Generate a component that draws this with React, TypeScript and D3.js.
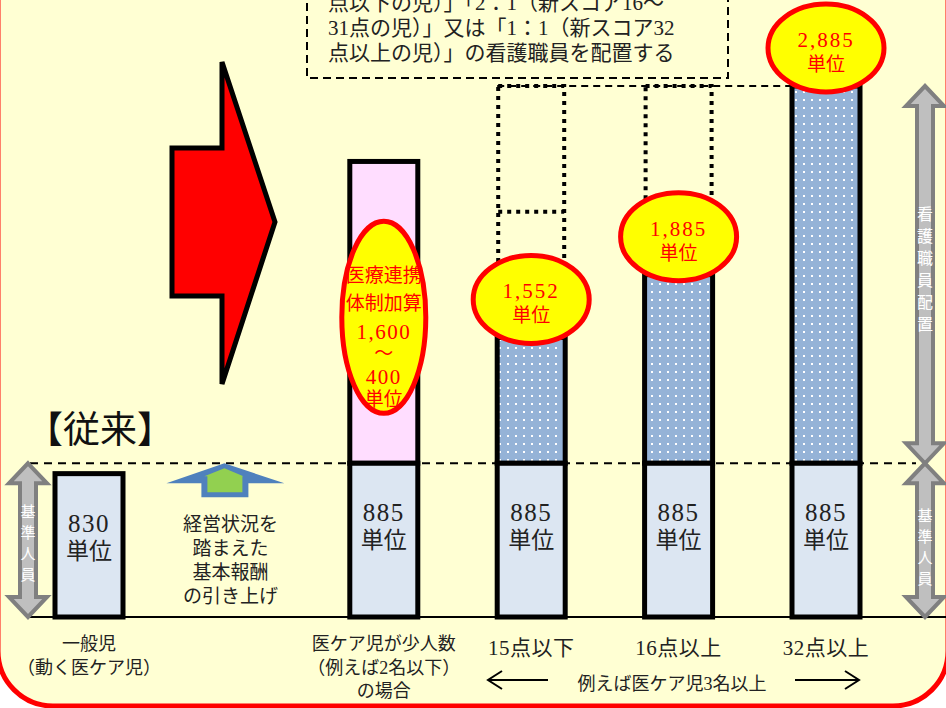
import React from "react";
import * as d3 from "d3";

const categories = ["一般児", "経営", "少人数", "15点以下", "16点以上", "32点以上"];
const barCategories = ["一般児", "少人数", "15点以下", "16点以上", "32点以上"];
const baseValues = [830, 885, 885, 885, 885];
const addValues = [0, 1600, 667, 1000, 2000];
const addKinds = ["none", "pink", "dots", "dots", "dots"];
const bubbleLabels = ["", "", "1,552", "1,885", "2,885"];
const ghostLevels: number[][] = [[], [], [2218, 2885], [2885], []];
const catLabels: string[][] = [
  ["一般児", "（動く医ケア児）"],
  ["医ケア児が少人数", "（例えば2名以下）", "の場合"],
  ["15点以下"],
  ["16点以上"],
  ["32点以上"],
];
const supplementLines = ["医療連携", "体制加算", "1,600", "～", "400", "単位"];
const raiseLines = ["経営状況を", "踏まえた", "基本報酬", "の引き上げ"];
const noteLines = [
  "点以下の児）」「2：1（新スコア16～",
  "31点の児）」又は「1：1（新スコア32",
  "点以上の児）」の看護職員を配置する",
];
const AXIS_MIN = 70;
const AXIS_MAX = 2885;

const FONT = "'Liberation Serif','Noto Sans CJK JP',serif";
const BG = "#FFFFD3";

function dblArrow(cx: number, y0: number, y1: number, hw = 19, sw = 8, hh = 20) {
  const p = [
    [cx, y0], [cx + hw, y0 + hh], [cx + sw, y0 + hh], [cx + sw, y1 - hh], [cx + hw, y1 - hh],
    [cx, y1], [cx - hw, y1 - hh], [cx - sw, y1 - hh], [cx - sw, y0 + hh], [cx - hw, y0 + hh],
  ];
  return p.map((d) => d.join(",")).join(" ");
}

export default function App() {
  const W = 946, H = 708;
  const x = d3.scalePoint<string>().domain(categories).range([89, 826]);
  const y = d3.scaleLinear().domain([AXIS_MIN, AXIS_MAX]).range([617, 86]);
  const baseY = y(AXIS_MIN);
  const barW = 68;
  const y885 = y(885);
  const yTop = y(AXIS_MAX);

  const verticalText = (chars: string, cx: number, yStart: number, step: number, size: number) =>
    chars.split("").map((c, i) => (
      <text key={i} x={cx} y={yStart + i * step} fontSize={size} fill="#fff" textAnchor="middle"
        fontFamily={FONT} dominantBaseline="central">{c}</text>
    ));

  const gx = x("経営")! - 12;

  return (
    <svg width={W} height={H} style={{ position: "absolute", left: 0, top: 0, background: "#fff" }}>
      <defs>
        <pattern id="dots" width="8" height="8" patternUnits="userSpaceOnUse">
          <rect width="8" height="8" fill="#95B3D7" />
          <rect x="3" y="3" width="2" height="2" fill="#fff" />
        </pattern>
      </defs>
      <rect x={-2} y={-100} width={950} height={806} rx={55} fill={BG} stroke="#FF0000" strokeWidth={5} />

      {/* note box */}
      <rect x={307} y={-40} width={421} height={118} fill="none" stroke="#000" strokeWidth={2} strokeDasharray="8 5" />
      {noteLines.map((t, i) => (
        <text key={i} x={328} y={10 + i * 25} fontSize={21} fontFamily={FONT} fill="#222">{t}</text>
      ))}

      {/* reference lines */}
      <line x1={28} x2={W} y1={baseY} y2={baseY} stroke="#000" strokeWidth={2} />
      <line x1={30} x2={916} y1={y885} y2={y885} stroke="#000" strokeWidth={2} strokeDasharray="8 6" />
      <line x1={x("15点以下")! - barW / 2} x2={x("32点以上")! - barW / 2} y1={yTop} y2={yTop} stroke="#000" strokeWidth={2} strokeDasharray="7 5" />

      {/* ghost dotted boxes */}
      {barCategories.map((c, i) =>
        ghostLevels[i].length ? (
          <g key={"g" + c}>
            <rect x={x(c)! - barW / 2 + 1} y={y(d3.max(ghostLevels[i])!)} width={barW - 2}
              height={y(baseValues[i] + addValues[i]) - y(d3.max(ghostLevels[i])!)}
              fill="none" stroke="#000" strokeWidth={4} strokeDasharray="4 5" />
            {ghostLevels[i].slice(0, -1).map((lv) => (
              <line key={lv} x1={x(c)! - barW / 2 + 1} x2={x(c)! + barW / 2 - 1} y1={y(lv)} y2={y(lv)}
                stroke="#000" strokeWidth={4} strokeDasharray="4 5" />
            ))}
          </g>
        ) : null
      )}

      {/* bars */}
      {barCategories.map((c, i) => {
        const cx = x(c)!;
        const top = y(baseValues[i]);
        const addTop = y(baseValues[i] + addValues[i]);
        return (
          <g key={c}>
            {addValues[i] > 0 && (
              <rect x={cx - barW / 2} y={addTop} width={barW} height={top - addTop}
                fill={addKinds[i] === "pink" ? "#FFDDFF" : "url(#dots)"} stroke="#000" strokeWidth={5} />
            )}
            <rect x={cx - barW / 2} y={top} width={barW} height={baseY - top} fill="#DCE6F2" stroke="#000" strokeWidth={5} />
            <text x={cx} y={top + 58} fontSize={25} letterSpacing={1.5} textAnchor="middle" fontFamily={FONT} fill="#222">{baseValues[i]}</text>
            <text x={cx} y={top + 85} fontSize={23} textAnchor="middle" fontFamily={FONT} fill="#222">単位</text>
            {catLabels[i].map((t, k) => (
              <text key={k} x={cx} y={(catLabels[i].length === 1 ? 655 : 650) + k * 23.5}
                fontSize={catLabels[i].length === 1 ? 21 : 18} letterSpacing={catLabels[i].length === 1 ? 0.5 : 0}
                textAnchor="middle" fontFamily={FONT} fill="#222">{t}</text>
            ))}
          </g>
        );
      })}

      {/* bubbles */}
      {barCategories.map((c, i) =>
        bubbleLabels[i] ? (
          <g key={"b" + c}>
            <ellipse cx={x(c)!} cy={y(baseValues[i] + addValues[i]) - 38} rx={58} ry={44} fill="#FFFF00" stroke="#FF0000" strokeWidth={5} />
            <text x={x(c)!} y={y(baseValues[i] + addValues[i]) - 39} fontSize={21} letterSpacing={2} textAnchor="middle" fontFamily={FONT} fill="#FF0000">{bubbleLabels[i]}</text>
            <text x={x(c)!} y={y(baseValues[i] + addValues[i]) - 15} fontSize={19} textAnchor="middle" fontFamily={FONT} fill="#FF0000">単位</text>
          </g>
        ) : null
      )}
      {(() => {
        const cx = x("少人数")!;
        const mid = (y(885) + y(885 + 1600)) / 2 + 5;
        return (
          <g>
            <ellipse cx={cx} cy={mid} rx={42} ry={96} fill="#FFFF00" stroke="#FF0000" strokeWidth={5} />
            {supplementLines.map((t, k) => (
              <text key={k} x={cx} y={mid - 35 + [0, 28, 57, 78, 102, 124][k]} fontSize={[19, 19, 21, 19, 21, 19][k]}
                letterSpacing={k === 2 || k === 4 ? 1.5 : 0} textAnchor="middle"
                fontFamily={FONT} fill="#FF0000">{t}</text>
            ))}
          </g>
        );
      })()}

      {/* big red arrow */}
      <polygon points="172,148 222,148 222,62 275,222 222,384 222,296 172,296" fill="#FF0000" stroke="#000" strokeWidth={5} strokeLinejoin="miter" />

      {/* raise arrow */}
      <polygon points={`${gx},${y885} ${gx + 60},${y885 + 20} ${gx + 24},${y885 + 20} ${gx + 24},${y885 + 34} ${gx - 23},${y885 + 34} ${gx - 23},${y885 + 20} ${gx - 58},${y885 + 20}`} fill="#4F81BD" />
      <polygon points={`${gx},${y885 + 5} ${gx + 19},${y885 + 13} ${gx + 18},${y885 + 13} ${gx + 18},${y885 + 29} ${gx - 17},${y885 + 29} ${gx - 17},${y885 + 13} ${gx - 20},${y885 + 13}`} fill="#92D050" />
      {raiseLines.map((t, k) => (
        <text key={k} x={gx + 6} y={531 + k * 24} fontSize={19} textAnchor="middle" fontFamily={FONT} fill="#222">{t}</text>
      ))}

      <text x={26} y={443} fontSize={37} fontFamily={FONT} fill="#111">【従来】</text>

      {/* gray arrows */}
      <polygon points={dblArrow(28, y885, baseY)} fill="#BFBFBF" stroke="#808080" strokeWidth={4} strokeLinejoin="miter" />
      {verticalText("基準人員", 28, 512, 21, 15)}
      <polygon points={dblArrow(925, yTop, y885)} fill="#BFBFBF" stroke="#808080" strokeWidth={4} />
      <polygon points={dblArrow(925, y885, baseY)} fill="#BFBFBF" stroke="#808080" strokeWidth={4} />
      {verticalText("看護職員配置", 925, 214, 22, 16)}
      {verticalText("基準人員", 925, 516, 21, 15)}

      {/* bottom group note */}
      <text x={672} y={690} fontSize={18} textAnchor="middle" fontFamily={FONT} fill="#222">例えば医ケア児3名以上</text>
      <line x1={488} x2={548} y1={680} y2={680} stroke="#000" strokeWidth={2} />
      <polyline points="502,671 488,680 502,689" fill="none" stroke="#000" strokeWidth={2} />
      <line x1={795} x2={859} y1={680} y2={680} stroke="#000" strokeWidth={2} />
      <polyline points="845,671 859,680 845,689" fill="none" stroke="#000" strokeWidth={2} />
    </svg>
  );
}
